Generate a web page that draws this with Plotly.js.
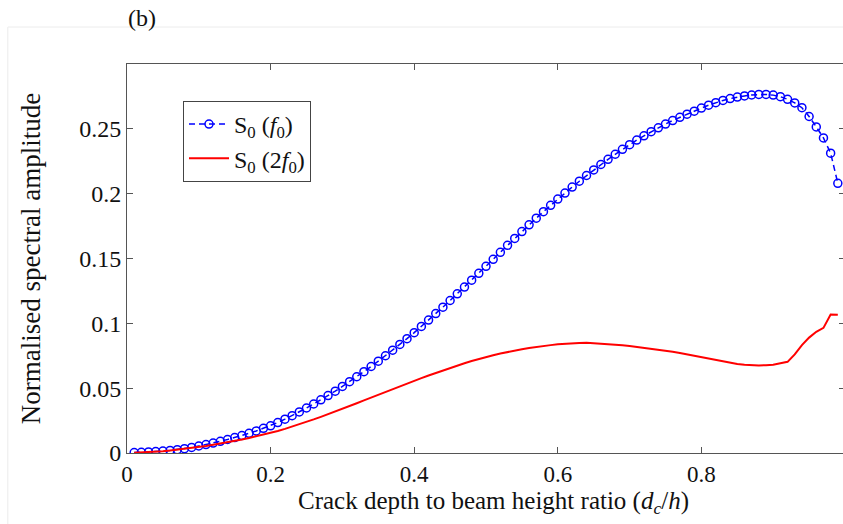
<!DOCTYPE html>
<html>
<head>
<meta charset="utf-8">
<script src="https://cdn.plot.ly/plotly-3.0.1.min.js"></script>
<style>
html,body{margin:0;padding:0;overflow:hidden;background:#fff;}
#chart{width:848px;height:524px;}
</style>
</head>
<body>
<div id="chart"></div>
<script>
// Crack depth ratio grid (d_c/h)
const depthRatio = [0.01,0.02,0.03,0.04,0.05,0.06,0.07,0.08,0.09,0.10,
0.11,0.12,0.13,0.14,0.15,0.16,0.17,0.18,0.19,0.20,
0.21,0.22,0.23,0.24,0.25,0.26,0.27,0.28,0.29,0.30,
0.31,0.32,0.33,0.34,0.35,0.36,0.37,0.38,0.39,0.40,
0.41,0.42,0.43,0.44,0.45,0.46,0.47,0.48,0.49,0.50,
0.51,0.52,0.53,0.54,0.55,0.56,0.57,0.58,0.59,0.60,
0.61,0.62,0.63,0.64,0.65,0.66,0.67,0.68,0.69,0.70,
0.71,0.72,0.73,0.74,0.75,0.76,0.77,0.78,0.79,0.80,
0.81,0.82,0.83,0.84,0.85,0.86,0.87,0.88,0.89,0.90,
0.91,0.92,0.93,0.94,0.95,0.96,0.97,0.98,0.99];

// S0 at fundamental frequency f0
const s0_f0 = [0.0003,0.0005,0.0008,0.0011,0.0015,0.0020,0.0026,0.0033,0.0043,0.0054,
0.0065,0.0077,0.0090,0.0104,0.0119,0.0135,0.0152,0.0170,0.0190,0.0210,
0.0235,0.0261,0.0288,0.0317,0.0347,0.0378,0.0410,0.0443,0.0477,0.0513,
0.0550,0.0588,0.0627,0.0667,0.0708,0.0750,0.0793,0.0837,0.0882,0.0928,
0.0976,0.1025,0.1075,0.1125,0.1176,0.1228,0.1280,0.1333,0.1386,0.1440,
0.1494,0.1548,0.1602,0.1655,0.1708,0.1760,0.1811,0.1861,0.1910,0.1958,
0.2005,0.2051,0.2096,0.2140,0.2183,0.2225,0.2265,0.2304,0.2342,0.2378,
0.2413,0.2446,0.2478,0.2508,0.2537,0.2564,0.2589,0.2613,0.2636,0.2660,
0.2682,0.2702,0.2719,0.2733,0.2745,0.2754,0.2761,0.2765,0.2765,0.2760,
0.2748,0.2728,0.2700,0.2663,0.2595,0.2515,0.2430,0.2312,0.2080];

// S0 at second harmonic 2f0
const s0_2f0 = [0.0002,0.0004,0.0007,0.0010,0.0014,0.0019,0.0025,0.0031,0.0038,0.0046,
0.0054,0.0063,0.0072,0.0082,0.0093,0.0104,0.0116,0.0128,0.0141,0.0155,
0.0170,0.0186,0.0203,0.0221,0.0240,0.0259,0.0279,0.0299,0.0319,0.0340,
0.0362,0.0384,0.0406,0.0428,0.0450,0.0472,0.0494,0.0515,0.0536,0.0556,
0.0577,0.0598,0.0618,0.0637,0.0655,0.0674,0.0692,0.0709,0.0725,0.0740,
0.0754,0.0767,0.0779,0.0790,0.0800,0.0809,0.0817,0.0828,0.0832,0.0838,
0.0843,0.0846,0.0849,0.0851,0.0848,0.0845,0.0841,0.0837,0.0831,0.0826,
0.0819,0.0813,0.0805,0.0797,0.0789,0.0780,0.0771,0.0760,0.0752,0.0741,
0.0729,0.0716,0.0704,0.0694,0.0686,0.0680,0.0676,0.0675,0.0677,0.0681,
0.0692,0.0703,0.0760,0.0832,0.0890,0.0935,0.0965,0.1068,0.1066];

const xTickVals = [0,0.2,0.4,0.6,0.8,1];
const xTickText = ['0','0.2','0.4','0.6','0.8','1'];
const yTickVals = [0,0.05,0.1,0.15,0.2,0.25];
const yTickText = ['0','0.05','0.1','0.15','0.2','0.25'];

const FONT = 'Liberation Serif, Times New Roman, serif';
const axisColor = '#555555';
const textColor = '#111111';

const traces = [
  {
    x: depthRatio, y: s0_f0, type: 'scatter', mode: 'lines+markers',
    name: 'S<sub>0</sub> (<i>f</i><sub>0</sub>)',
    line: {color: '#0000ff', width: 1.5, dash: '6px,4px'},
    marker: {symbol: 'circle-open', size: 8, color: '#0000ff', line: {width: 1.5, color: '#0000ff'}}
  },
  {
    x: depthRatio, y: s0_2f0, type: 'scatter', mode: 'lines',
    name: 'S<sub>0</sub> (2<i>f</i><sub>0</sub>)',
    line: {color: '#ff0000', width: 2}
  }
];

const layout = {
  width: 848, height: 524,
  margin: {l: 127, r: 3, t: 64, b: 71},
  paper_bgcolor: '#ffffff', plot_bgcolor: '#ffffff',
  font: {family: FONT, size: 24, color: textColor},
  showlegend: true,
  legend: {
    x: 0.078, y: 0.905, xanchor: 'left', yanchor: 'top',
    bgcolor: '#ffffff', bordercolor: '#444444', borderwidth: 1,
    font: {family: FONT, size: 24, color: textColor},
    tracegroupgap: 0, itemwidth: 40
  },
  xaxis: {
    range: [0, 1], tickvals: xTickVals, ticktext: xTickText,
    showline: true, linecolor: axisColor, linewidth: 1, mirror: 'ticks',
    ticks: 'inside', ticklen: 6, tickcolor: axisColor, tickwidth: 1,
    showgrid: false, zeroline: false,
    tickfont: {family: FONT, size: 23, color: textColor}
  },
  yaxis: {
    range: [0, 0.3], tickvals: yTickVals, ticktext: yTickText,
    showline: true, linecolor: axisColor, linewidth: 1, mirror: 'ticks',
    ticks: 'inside', ticklen: 6, tickcolor: axisColor, tickwidth: 1,
    showgrid: false, zeroline: false,
    tickfont: {family: FONT, size: 24, color: textColor},
    title: {text: 'Normalised spectral amplitude', font: {family: FONT, size: 27, color: textColor}, standoff: 30}
  },
  shapes: [
    {type: 'line', xref: 'paper', yref: 'paper', x0: -0.166, x1: 1.1, y0: 1.095, y1: 1.095,
     line: {color: '#ececec', width: 1}},
    {type: 'line', xref: 'paper', yref: 'paper', x0: -0.166, x1: -0.166, y0: 1.095, y1: -0.2,
     line: {color: '#ececec', width: 1}}
  ],
  annotations: [
    {text: 'Crack depth to beam height ratio (<i>d</i><sub><i>c</i></sub>/<i>h</i>)',
     xref: 'paper', yref: 'paper', x: 0.51, y: -0.126, xanchor: 'center', yanchor: 'middle',
     showarrow: false, font: {family: FONT, size: 25, color: textColor}},
    {text: '(b)', xref: 'paper', yref: 'paper', x: 0.021, y: 1.118, xanchor: 'center', yanchor: 'middle',
     showarrow: false, font: {family: FONT, size: 24, color: textColor}}
  ]
};

Plotly.newPlot('chart', traces, layout, {displayModeBar: false, staticPlot: true});
</script>
</body>
</html>
